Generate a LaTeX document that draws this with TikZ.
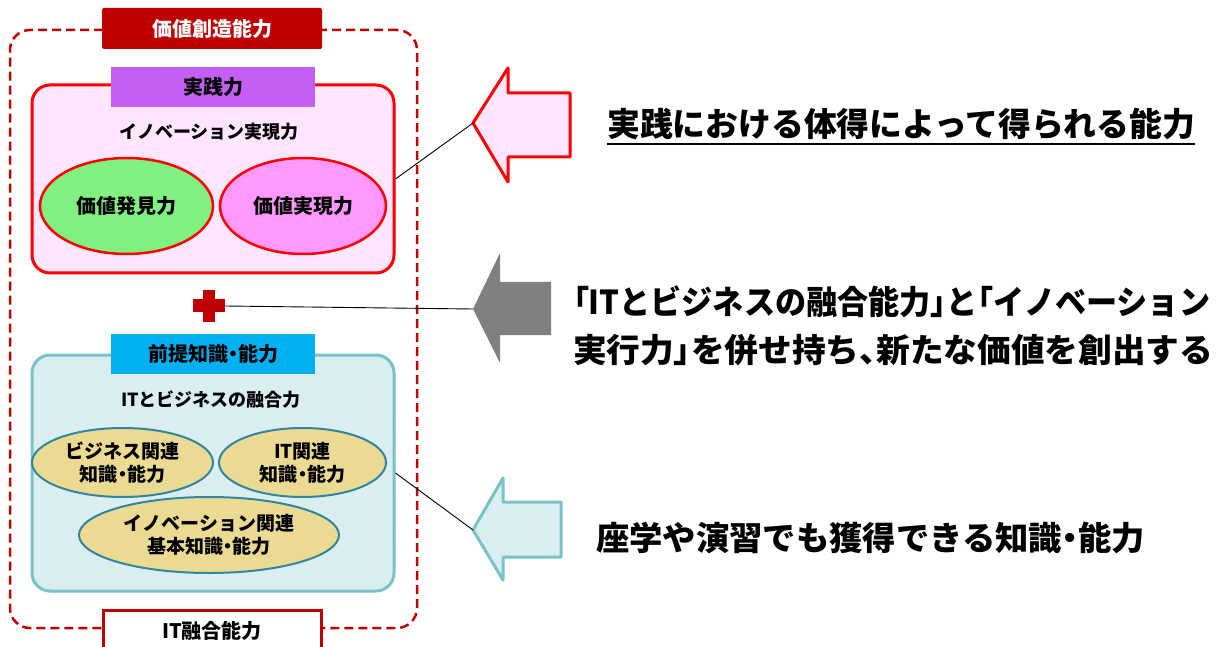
\documentclass[tikz,border=0pt]{standalone}
\usepackage{fontspec}
\usepackage{graphicx}
\setmainfont{Noto Sans CJK JP}
\usetikzlibrary{shapes.geometric}
\newcommand\pp[1]{{\addfontfeatures{RawFeature=+palt}#1}}
\newcommand\fitw[2]{\resizebox{#1}{\height}{#2}}
\definecolor{dred}{HTML}{C00000}
\definecolor{pinkfill}{HTML}{FFE6FF}
\definecolor{purp}{HTML}{C45EF5}
\definecolor{greenfill}{HTML}{80F080}
\definecolor{pinkell}{HTML}{FF99FF}
\definecolor{skyblue}{HTML}{00B0F0}
\definecolor{bluefill}{HTML}{DAEEF2}
\definecolor{blueline}{HTML}{78C2C8}
\definecolor{tanfill}{HTML}{EADA92}
\definecolor{tealline}{HTML}{31859C}
\definecolor{grayarr}{HTML}{808080}
\tikzset{
  lbl/.style={font=\fontsize{20}{24}\selectfont\bfseries, inner sep=0pt, align=center},
  sub/.style={font=\fontsize{18}{22}\selectfont\bfseries, inner sep=0pt, align=center},
  big/.style={font=\fontsize{33}{48}\selectfont\bfseries, inner sep=0pt, align=left, anchor=west},
  bigbox/.style={rounded corners=18pt, line width=3pt},
  ell/.style={ellipse, inner sep=0pt, font=\fontsize{19}{23}\selectfont\bfseries, align=center},
  conn/.style={black, line width=0.9pt},
}
\begin{document}
\begin{tikzpicture}[x=1pt,y=-1pt]
\useasboundingbox (0,0) rectangle (1224,647);
% outer dashed frame
\node[draw=dred, line width=2.5pt, dash pattern=on 9pt off 5pt, rounded corners=20pt,
  minimum width=407pt, minimum height=598pt, inner sep=0pt] (outer) at (213.5,329) {};
% bottom label
\node[draw=dred, fill=white, line width=3pt, minimum width=218pt, minimum height=60pt, inner sep=0pt] (itbox) at (212,640) {};
\node[lbl] (ittxt) at (212,631) {IT融合能力};
% pink box
\node[bigbox, draw=red, fill=pinkfill, minimum width=362pt, minimum height=188pt, inner sep=0pt] (pinkbox) at (213,179) {};
% title
\node[fill=dred, rounded corners=1.5pt, minimum width=220pt, minimum height=41pt, inner sep=0pt, lbl, text=white] (title) at (212,28.5) {価値創造能力};
\node[fill=purp, minimum width=204pt, minimum height=40pt, lbl] (jissen) at (213,87) {実践力};
\node[sub] (inno) at (209,132) {イノベーション実現力};
\node[ell, draw=red, line width=2.5pt, fill=greenfill, minimum width=173pt, minimum height=96pt, font=\fontsize{20}{24}\selectfont\bfseries] (e1) at (126.5,206) {価値発見力};
\node[ell, draw=red, line width=2.5pt, fill=pinkell, minimum width=166pt, minimum height=96pt, font=\fontsize{20}{24}\selectfont\bfseries] (e2) at (303,206) {価値実現力};
% plus
\fill[dred] (203,290) rectangle (215,322);
\fill[dred] (193,299) rectangle (225,312);
\coordinate (plus) at (225,306);
% blue box
\node[bigbox, draw=blueline, fill=bluefill, minimum width=362pt, minimum height=236pt, inner sep=0pt] (bluebox) at (213,473) {};
\node[fill=skyblue, minimum width=204pt, minimum height=40pt, lbl] (zentei) at (213,354) {前提知識\pp{・}能力};
\node[sub] (itbiz) at (211,400) {ITとビジネスの融合力};
\node[ell, draw=tealline, line width=2pt, fill=tanfill, minimum width=181pt, minimum height=69pt] (b1) at (122.5,462.5) {ビジネス関連\\知識\pp{・}能力};
\node[ell, draw=tealline, line width=2pt, fill=tanfill, minimum width=167pt, minimum height=69pt] (b2) at (302.5,462.5) {IT関連\\知識\pp{・}能力};
\node[ell, draw=tealline, line width=2pt, fill=tanfill, minimum width=260pt, minimum height=76pt] (b3) at (209,535) {イノベーション関連\\基本知識\pp{・}能力};
% arrows
\draw[red, line width=3pt, fill=pinkfill, line join=round]
  (473,123) -- (508,68) -- (508,93) -- (570,93) -- (570,157) -- (508,157) -- (508,182) -- cycle;
\coordinate (tip1) at (473,123);
\fill[grayarr] (473,309) -- (500,253) -- (500,282) -- (551,282) -- (551,335) -- (500,335) -- (500,363) -- cycle;
\coordinate (tip2) at (473,309);
\draw[blueline, line width=3pt, fill=bluefill, line join=round]
  (473,530) -- (503,478) -- (503,502) -- (561,502) -- (561,557) -- (503,557) -- (503,580) -- cycle;
\coordinate (tip3) at (473,530);
% connectors
\draw[conn] (pinkbox.east) -- (tip1);
\draw[conn] (plus) -- (tip2);
\draw[conn] (bluebox.east) -- (tip3);
% right texts
\node[big] (t1) at (607,124) {\fitw{588pt}{実践における体得によって得られる能力}};
\draw[line width=2pt] ([yshift=-4pt]t1.south west) -- ([yshift=-4pt]t1.south east);
\node[big] (t2) at (573,326) {\fitw{637pt}{\pp{「}ITとビジネスの融合能力\pp{」}と\pp{「}イノベーション}\\\fitw{640pt}{実行力\pp{」}を併せ持ち\pp{、}新たな価値を創出する}};
\node[big] (t3) at (596,538) {\fitw{549pt}{座学や演習でも獲得できる知識\pp{・}能力}};
\end{tikzpicture}
\end{document}
